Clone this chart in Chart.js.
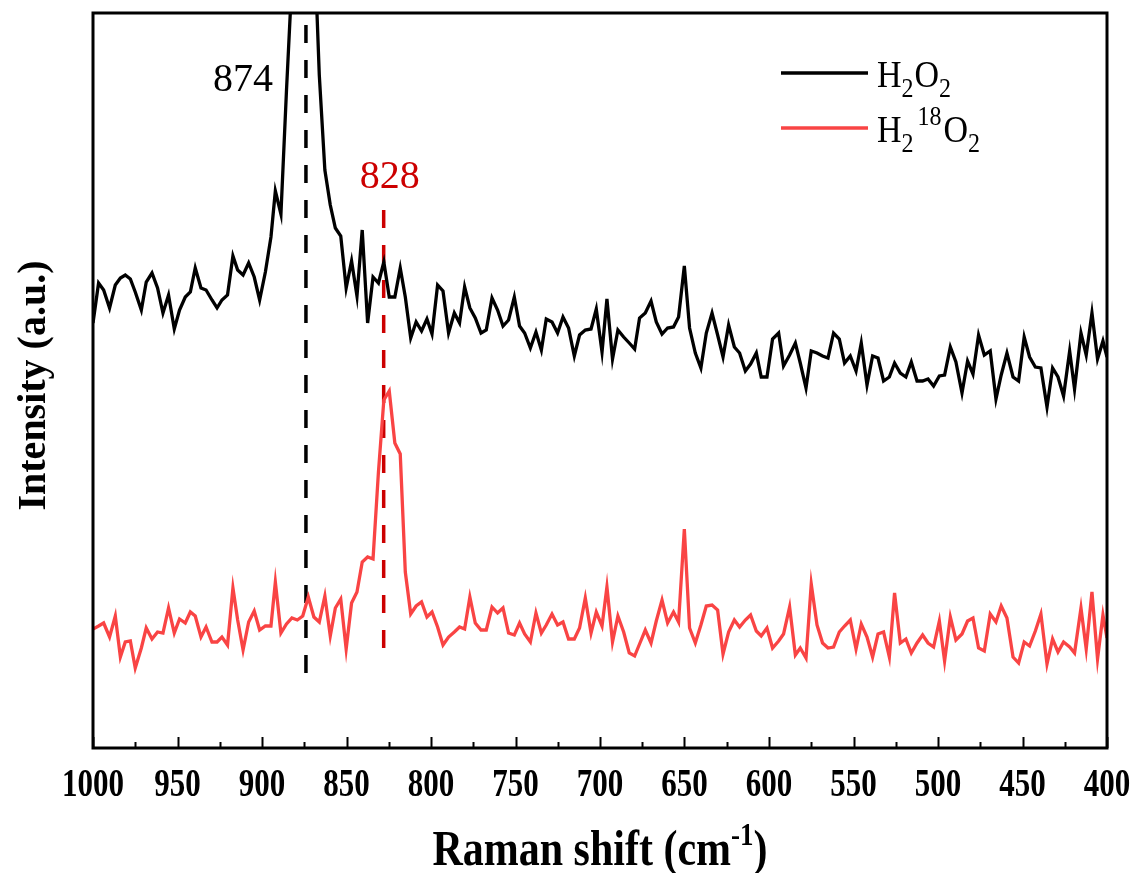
<!DOCTYPE html>
<html>
<head>
<meta charset="utf-8">
<style>
  html, body { margin: 0; background: #fff; }
  #chart { display: block; }
</style>
</head>
<body>
<canvas id="chart" width="1137" height="873"></canvas>
<script src="https://cdn.jsdelivr.net/npm/chart.js"></script>
<script>
// Raman shift (cm-1), shared by both spectra
const shift = [
  1000.0, 996.7, 993.7, 990.2, 986.8, 983.8, 980.9, 977.9, 975.0, 971.4,
  968.5, 965.1, 961.8, 958.6, 955.3, 951.9, 948.8, 945.4, 942.4, 939.5,
  936.1, 933.1, 929.6, 926.6, 923.7, 920.4, 917.2, 914.4, 911.2, 907.9,
  904.6, 901.4, 898.0, 894.7, 892.1, 888.8, 885.5, 882.3, 879.1, 875.9,
  872.6, 869.3, 866.1, 862.8, 859.6, 856.6, 853.4, 850.2, 847.0, 843.8,
  840.7, 837.5, 834.3, 831.1, 827.9, 824.7, 821.4, 818.2, 815.2, 812.0,
  808.8, 805.6, 802.4, 799.4, 796.1, 792.9, 789.6, 786.2, 783.1, 780.1,
  777.0, 773.8, 770.4, 767.3, 763.9, 760.6, 757.4, 754.1, 750.7, 747.6,
  744.6, 741.2, 737.9, 734.7, 731.8, 728.4, 725.1, 721.9, 718.6, 715.2,
  712.1, 708.7, 705.3, 702.2, 698.8, 695.9, 692.6, 689.4, 686.0, 682.7,
  679.5, 676.6, 673.2, 669.8, 666.7, 663.3, 660.0, 656.5, 653.5, 650.1,
  647.0, 643.6, 640.3, 637.1, 633.7, 630.4, 627.2, 623.9, 620.5, 617.4,
  614.0, 610.9, 607.5, 604.6, 601.2, 597.9, 594.3, 591.4, 587.8, 584.4,
  581.5, 578.1, 575.0, 571.6, 568.3, 565.1, 561.8, 558.4, 555.3, 551.9,
  548.5, 545.4, 542.0, 538.7, 535.5, 532.2, 528.8, 525.7, 522.3, 519.0,
  515.8, 512.4, 509.1, 505.9, 502.6, 499.2, 496.1, 492.7, 489.4, 485.8,
  482.5, 479.3, 476.0, 472.6, 469.1, 465.7, 462.6, 459.2, 455.6, 452.3,
  449.0, 445.8, 442.4, 439.1, 435.5, 432.2, 429.0, 425.7, 422.1, 419.2,
  415.4, 412.3, 408.9, 405.6, 402.4, 400.0
];

// H2O2 spectrum (a.u.)
const h2o2 = [
  425, 465, 458, 440, 463, 470, 473, 469, 456, 438,
  466, 475, 460, 435, 453, 419, 438, 451, 456, 480,
  460, 458, 448, 440, 448, 453, 492, 478, 473, 485,
  471, 448, 476, 511, 557, 534, 658, 768, 998, 1098,
  998, 818, 673, 578, 543, 520, 512, 460, 487, 452,
  518, 425, 471, 465, 486, 451, 451, 480, 451, 410,
  426, 417, 429, 414, 463, 457, 415, 435, 425, 461,
  440, 430, 415, 418, 450, 438, 422, 428, 451, 422,
  415, 400, 416, 398, 429, 426, 415, 431, 420, 392,
  413, 418, 419, 439, 396, 449, 389, 418, 411, 405,
  399, 430, 435, 447, 426, 414, 420, 421, 431, 482,
  420, 395, 380, 415, 435, 413, 391, 423, 401, 395,
  377, 384, 395, 371, 371, 409, 415, 382, 393, 405,
  385, 360, 397, 395, 392, 390, 415, 409, 385, 392,
  377, 405, 363, 392, 390, 367, 371, 385, 375, 371,
  386, 367, 367, 369, 362, 372, 373, 401, 386, 355,
  387, 374, 413, 393, 397, 349, 373, 395, 371, 367,
  411, 391, 381, 380, 341, 380, 371, 352, 397, 359,
  415, 393, 435, 389, 407, 391
];

// H2(18)O2 spectrum (a.u.)
const h218o2 = [
  119, 122, 125, 111, 132, 91, 106, 107, 80, 100,
  120, 109, 116, 115, 140, 115, 129, 125, 136, 132,
  111, 121, 106, 106, 111, 103, 160, 128, 98, 126,
  137, 118, 122, 122, 166, 115, 124, 130, 128, 132,
  151, 131, 126, 152, 112, 140, 149, 99, 145, 156,
  186, 191, 189, 276, 348, 357, 305, 294, 176, 134,
  142, 146, 131, 136, 121, 103, 111, 116, 121, 119,
  151, 125, 118, 118, 141, 135, 140, 115, 113, 125,
  114, 106, 135, 115, 123, 134, 123, 126, 109, 109,
  120, 150, 115, 136, 122, 161, 106, 132, 116, 95,
  92, 104, 118, 105, 127, 148, 125, 136, 126, 219,
  120, 105, 123, 142, 143, 138, 94, 116, 128, 121,
  128, 133, 117, 112, 120, 100, 107, 114, 141, 93,
  100, 90, 164, 123, 105, 100, 101, 116, 122, 128,
  99, 124, 111, 91, 114, 116, 91, 155, 105, 109,
  95, 105, 113, 105, 101, 127, 87, 131, 108, 114,
  127, 130, 100, 97, 134, 126, 142, 130, 91, 85,
  106, 102, 117, 134, 84, 109, 96, 106, 101, 95,
  140, 99, 156, 89, 133, 110
];

const majorTicks = [1000, 950, 900, 850, 800, 750, 700, 650, 600, 550, 500, 450, 400];
const peaks = [874, 828];

const SERIF = "'Liberation Serif', 'Times New Roman', serif";
const RED = '#f94444';
const DARK_RED = '#cc0000';

function pairs(xs, ys) {
  return xs.map((x, i) => ({ x: x, y: ys[i] }));
}

// draw text stretched vertically by sy
function putText(ctx, str, x, y, font, color, align, sy) {
  ctx.save();
  ctx.translate(x, y);
  ctx.scale(1, sy || 1);
  ctx.font = font;
  ctx.fillStyle = color;
  ctx.textAlign = align || 'left';
  ctx.textBaseline = 'alphabetic';
  ctx.fillText(str, 0, 0);
  ctx.restore();
}

// runs of normal / sub / sup text drawn left to right
function putRich(ctx, runs, x, y, size, color, sy) {
  let cx = x;
  runs.forEach(function (r) {
    const s = r.sub || r.sup ? Math.round(size * 0.7) : size;
    const dy = r.sub ? 10 : r.sup ? -17 : 0;
    const font = s + 'px ' + SERIF;
    ctx.font = font;
    const w = ctx.measureText(r.t).width;
    putText(ctx, r.t, cx + (r.gap || 0), y + dy, font, color, 'left', sy);
    cx += w + (r.gap || 0);
  });
}

const frame = {
  id: 'frame',
  afterDraw(chart) {
    const ctx = chart.ctx;
    const a = chart.chartArea;
    const xs = chart.scales.x;

    ctx.save();
    ctx.strokeStyle = '#000';
    ctx.lineWidth = 3;
    ctx.strokeRect(a.left, a.top, a.right - a.left, a.bottom - a.top);

    // inward ticks on the bottom axis
    ctx.lineWidth = 2;
    ctx.beginPath();
    majorTicks.forEach(function (v) {
      const x = Math.round(xs.getPixelForValue(v)) + 0.5;
      ctx.moveTo(x, a.bottom);
      ctx.lineTo(x, a.bottom - 11);
      if (v > 400) {
        const xm = Math.round(xs.getPixelForValue(v - 25)) + 0.5;
        ctx.moveTo(xm, a.bottom);
        ctx.lineTo(xm, a.bottom - 6);
      }
    });
    ctx.stroke();

    majorTicks.forEach(function (v) {
      putText(ctx, String(v), xs.getPixelForValue(v), 796, 'bold 31px ' + SERIF, '#000', 'center', 1.3);
    });

    // x axis title with superscript
    const big = 'bold 42px ' + SERIF, small = 'bold 27px ' + SERIF;
    ctx.font = big;
    const w1 = ctx.measureText('Raman shift (cm').width;
    const w3 = ctx.measureText(')').width;
    ctx.font = small;
    const w2 = ctx.measureText('-1').width;
    const tx = (a.left + a.right) / 2 - (w1 + w2 + w3) / 2;
    putText(ctx, 'Raman shift (cm', tx, 865, big, '#000', 'left', 1.2);
    putText(ctx, '-1', tx + w1, 845, small, '#000', 'left', 1.2);
    putText(ctx, ')', tx + w1 + w2, 865, big, '#000', 'left', 1.2);

    // y axis title
    ctx.save();
    ctx.translate(45, (a.top + a.bottom) / 2 + 5);
    ctx.rotate(-Math.PI / 2);
    putText(ctx, 'Intensity (a.u.)', 0, 0, 'bold 40px ' + SERIF, '#000', 'center', 1);
    ctx.restore();

    // peak labels
    putText(ctx, String(peaks[0]), xs.getPixelForValue(peaks[0]) - 33, 91, '40px ' + SERIF, '#000', 'right', 1);
    putText(ctx, String(peaks[1]), xs.getPixelForValue(peaks[1]) + 6, 188, '40px ' + SERIF, DARK_RED, 'center', 1);

    // legend
    ctx.lineWidth = 3.3;
    ctx.strokeStyle = '#000';
    ctx.beginPath();
    ctx.moveTo(781, 73);
    ctx.lineTo(868, 73);
    ctx.stroke();
    ctx.strokeStyle = RED;
    ctx.beginPath();
    ctx.moveTo(781, 128);
    ctx.lineTo(868, 128);
    ctx.stroke();
    putRich(ctx, [{ t: 'H' }, { t: '2', sub: true }, { t: 'O', gap: 1 }, { t: '2', sub: true }], 877, 87, 34, '#000', 1.12);
    putRich(ctx, [{ t: 'H' }, { t: '2', sub: true }, { t: '18', sup: true, gap: 4 }, { t: 'O', gap: 2 }, { t: '2', sub: true }], 877, 142, 34, '#000', 1.12);
    ctx.restore();
  }
};

new Chart(document.getElementById('chart'), {
  type: 'line',
  data: {
    datasets: [
      {
        label: 'H2O2',
        data: pairs(shift, h2o2),
        borderColor: '#000',
        borderWidth: 3.3,
        pointRadius: 0,
        tension: 0,
        clip: 0
      },
      {
        label: 'H2 18O2',
        data: pairs(shift, h218o2),
        borderColor: RED,
        borderWidth: 3.3,
        pointRadius: 0,
        tension: 0,
        clip: 0
      },
      {
        label: String(peaks[0]),
        data: [{ x: peaks[0], y: 723 }, { x: peaks[0], y: 75 }],
        borderColor: '#000',
        borderWidth: 3.5,
        borderDash: [18, 17],
        pointRadius: 0
      },
      {
        label: String(peaks[1]),
        data: [{ x: peaks[1], y: 538 }, { x: peaks[1], y: 97 }],
        borderColor: DARK_RED,
        borderWidth: 3.5,
        borderDash: [18, 17],
        pointRadius: 0
      }
    ]
  },
  options: {
    responsive: false,
    animation: false,
    layout: { padding: { left: 93, top: 13, right: 30, bottom: 125 } },
    plugins: { legend: { display: false }, tooltip: { enabled: false } },
    scales: {
      x: { type: 'linear', reverse: true, min: 400, max: 1000, display: false },
      y: { type: 'linear', min: 0, max: 735, display: false }
    }
  },
  plugins: [frame]
});
</script>
</body>
</html>
